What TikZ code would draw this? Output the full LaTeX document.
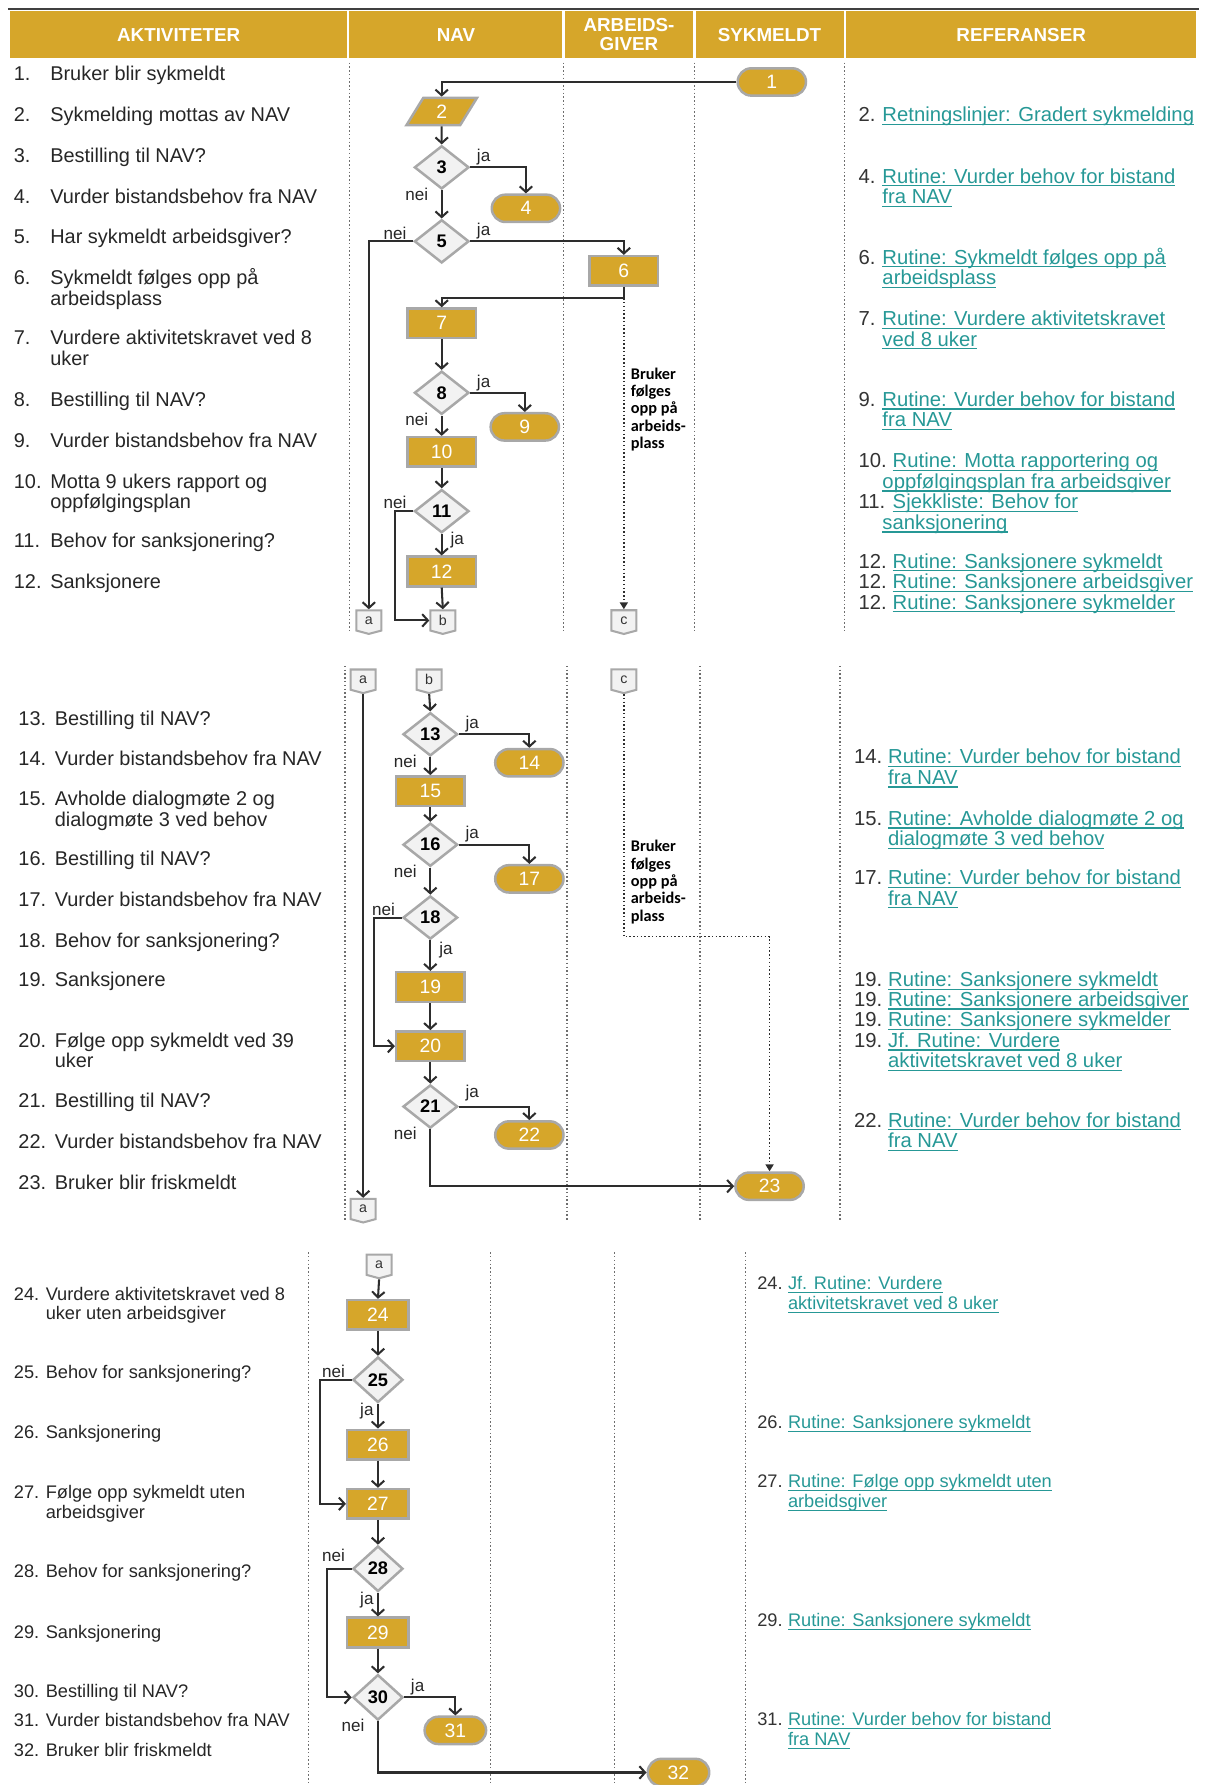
\documentclass[tikz,border=0pt]{standalone}
\usepackage{fontspec}
\setmainfont{Liberation Sans}
\newfontfamily\notefont{Carlito}
\usetikzlibrary{shapes.geometric, shapes.misc, shapes.symbols, arrows.meta}

\definecolor{navgold}{RGB}{214,166,42}
\definecolor{navteal}{RGB}{38,152,150}
\definecolor{boxgray}{RGB}{168,168,168}
\definecolor{linegray}{RGB}{45,45,45}
\definecolor{lanegray}{RGB}{110,110,110}

% underlined reference link
\newsavebox\reflinkbox
\newcommand{\reflink}[1]{\sbox\reflinkbox{#1}\rlap{\rule[-2.8pt]{\wd\reflinkbox}{1pt}}\usebox\reflinkbox}

\begin{document}
\begin{tikzpicture}[x=1pt, y=-1pt,
    % Styles
    head cell/.style={rectangle, fill=navgold, draw=white, line width=2pt, text=white, align=center, font=\fontsize{16.5}{17}\selectfont\bfseries, minimum height=43pt, inner sep=0pt},
    head line/.style={draw=black!75, line width=2pt},
    lane/.style={draw=lanegray, dotted, line width=1.3pt},
    act num/.style={anchor=base west, inner sep=0pt, text=black!85, font=\fontsize{17.5}{18}\selectfont},
    act text/.style={anchor=base west, inner sep=0pt, text=black!85, align=left, font=\fontsize{17.5}{18}\selectfont},
    ref num/.style={anchor=base west, inner sep=0pt, text=black!80, font=\fontsize{17.8}{18}\selectfont},
    ref text/.style={anchor=base west, inner sep=0pt, text=navteal, align=left, font=\fontsize{17.8}{18}\selectfont},
    small/.style={font=\fontsize{16}{17.5}\selectfont},
    proc node/.style={rectangle, fill=navgold, draw=boxgray, line width=2.2pt, text=white, minimum width=60pt, minimum height=26pt, inner sep=0pt, font=\fontsize{17}{17}\selectfont},
    term node/.style={rounded rectangle, fill=navgold, draw=boxgray, line width=2.2pt, text=white, minimum width=60pt, minimum height=24pt, inner sep=0pt, font=\fontsize{17}{17}\selectfont},
    io node/.style={trapezium, trapezium left angle=70, trapezium right angle=110, trapezium stretches=true, fill=navgold, draw=boxgray, line width=2.2pt, text=white, minimum width=62pt, minimum height=24pt, inner sep=0pt, font=\fontsize{17}{17}\selectfont},
    dec node/.style={diamond, fill=black!5, draw=boxgray, line width=2.2pt, text=black, minimum width=48pt, minimum height=38pt, inner sep=0pt, font=\fontsize{16}{16}\selectfont\bfseries},
    page node/.style={signal, signal to=south, signal pointer angle=150, fill=black!5, draw=boxgray, line width=1.8pt, minimum width=22pt, minimum height=19pt, inner sep=1pt, text=black!80, font=\fontsize{12.5}{12.5}\selectfont},
    arrow/.style={-{Straight Barb[length=5pt, width=11pt]}, draw=linegray, line width=1.8pt},
    dotted arrow/.style={-{Triangle[length=6pt, width=7pt]}, draw=linegray, dotted, line width=1.3pt},
    lbl/.style={inner sep=1pt, text=black!85, font=\fontsize{15}{15}\selectfont},
    ja right/.style={lbl, at start, anchor=south west, xshift=4pt},
    ja below/.style={lbl, pos=0.3, anchor=west, xshift=6pt},
    ja left/.style={lbl, pos=0.3, anchor=east, xshift=-2pt},
    nei below/.style={lbl, at start, anchor=north east, xshift=-10pt, yshift=4pt},
    nei above/.style={lbl, at start, anchor=south east, xshift=-4pt},
    note text/.style={anchor=north west, inner sep=0pt, align=left, text=black, font=\notefont\fontsize{14.3}{15.2}\selectfont\bfseries}
]
\useasboundingbox (0,0) rectangle (1059,1568);

% Header
\node[head cell, minimum width=298pt] (hAkt) at (157,30.5) {AKTIVITETER};
\node[head cell, minimum width=189pt] (hNav) at (400.5,30.5) {NAV};
\node[head cell, minimum width=115pt] (hArb) at (552.5,30.5) {ARBEIDS-\\GIVER};
\node[head cell, minimum width=132pt] (hSyk) at (676,30.5) {SYKMELDT};
\node[head cell, minimum width=310pt] (hRef) at (897,30.5) {REFERANSER};
\draw[head line] (hAkt.north west) -- (hRef.north east);

% Lanes
\draw[lane] (307,55) -- (307,555);
\draw[lane] (495,55) -- (495,555);
\draw[lane] (610,55) -- (610,555);
\draw[lane] (742,55) -- (742,555);
\draw[lane] (303,585) -- (303,1072);
\draw[lane] (498,585) -- (498,1072);
\draw[lane] (615,585) -- (615,1072);
\draw[lane] (738,585) -- (738,1072);
\draw[lane] (271,1100) -- (271,1568);
\draw[lane] (431,1100) -- (431,1568);
\draw[lane] (540,1100) -- (540,1568);
\draw[lane] (655,1100) -- (655,1568);

% Activities, part 1 (two-line texts sit on their last baseline)
\node[act num] (an1) at (12,71) {1.};
\node[act text] (at1) at (44,71) {Bruker blir sykmeldt};
\node[act num] (an2) at (12,107) {2.};
\node[act text] (at2) at (44,107) {Sykmelding mottas av NAV};
\node[act num] (an3) at (12,143) {3.};
\node[act text] (at3) at (44,143) {Bestilling til NAV?};
\node[act num] (an4) at (12,179) {4.};
\node[act text] (at4) at (44,179) {Vurder bistandsbehov fra NAV};
\node[act num] (an5) at (12,214) {5.};
\node[act text] (at5) at (44,214) {Har sykmeldt arbeidsgiver?};
\node[act num] (an6) at (12,250) {6.};
\node[act text] (at6) at (44,268) {Sykmeldt følges opp på\\arbeidsplass};
\node[act num] (an7) at (12,303) {7.};
\node[act text] (at7) at (44,321) {Vurdere aktivitetskravet ved 8\\uker};
\node[act num] (an8) at (12,357) {8.};
\node[act text] (at8) at (44,357) {Bestilling til NAV?};
\node[act num] (an9) at (12,393) {9.};
\node[act text] (at9) at (44,393) {Vurder bistandsbehov fra NAV};
\node[act num] (an10) at (12,429) {10.};
\node[act text] (at10) at (44,447) {Motta 9 ukers rapport og\\oppfølgingsplan};
\node[act num] (an11) at (12,481) {11.};
\node[act text] (at11) at (44,481) {Behov for sanksjonering?};
\node[act num] (an12) at (12,517) {12.};
\node[act text] (at12) at (44,517) {Sanksjonere};

% References, part 1
\node[ref num] (rn2) at (754,107) {2.};
\node[ref text] (rt2) at (775,107) {\reflink{Retningslinjer: Gradert sykmelding}};
\node[ref num] (rn4) at (754,161) {4.};
\node[ref text] (rt4) at (775,179) {\reflink{Rutine: Vurder behov for bistand}\\\reflink{fra NAV}};
\node[ref num] (rn6) at (754,232) {6.};
\node[ref text] (rt6) at (775,250) {\reflink{Rutine: Sykmeldt følges opp på}\\\reflink{arbeidsplass}};
\node[ref num] (rn7) at (754,286) {7.};
\node[ref text] (rt7) at (775,304) {\reflink{Rutine: Vurdere aktivitetskravet}\\\reflink{ved 8 uker}};
\node[ref num] (rn9) at (754,357) {9.};
\node[ref text] (rt9) at (775,375) {\reflink{Rutine: Vurder behov for bistand}\\\reflink{fra NAV}};
\node[ref num] (rn10) at (754,411) {10.};
\node[ref text] (rt10) at (775,429) {\hspace*{9pt}\reflink{Rutine: Motta rapportering og}\\\reflink{oppfølgingsplan fra arbeidsgiver}};
\node[ref num] (rn11) at (754,447) {11.};
\node[ref text] (rt11) at (775,465) {\hspace*{9pt}\reflink{Sjekkliste: Behov for}\\\reflink{sanksjonering}};
\node[ref num] (rn12a) at (754,499) {12.};
\node[ref text] (rt12a) at (784,499) {\reflink{Rutine: Sanksjonere sykmeldt}};
\node[ref num] (rn12b) at (754,517) {12.};
\node[ref text] (rt12b) at (784,517) {\reflink{Rutine: Sanksjonere arbeidsgiver}};
\node[ref num] (rn12c) at (754,535) {12.};
\node[ref text] (rt12c) at (784,535) {\reflink{Rutine: Sanksjonere sykmelder}};

% Flow, part 1
\node[term node] (t1) at (678,72) {1};
\node[io node] (p2) at (388,98) {2};
\node[dec node] (d3) at (388,147) {3};
\node[term node] (t4) at (462,183) {4};
\node[dec node] (d5) at (388,212) {5};
\node[proc node] (b6) at (548,238) {6};
\node[proc node] (b7) at (388,284) {7};
\node[dec node] (d8) at (388,345) {8};
\node[term node] (t9) at (461,375) {9};
\node[proc node] (b10) at (388,397) {10};
\node[dec node] (d11) at (388,449) {11};
\node[proc node] (b12) at (388,502) {12};
\node[page node] (ca1) at (324,545) {a};
\node[page node] (cb1) at (389,545) {b};
\node[page node] (cc1) at (548,545) {c};
\node[note text] (note1) at (554,323) {Bruker\\følges\\opp på\\arbeids-\\plass};

% Connections, part 1
\draw[arrow] (t1.west) -| (p2.north);
\draw[arrow] (p2.south) -- (d3.north);
\draw[arrow] (d3.east) -| node[ja right] (j3) {ja} (t4.north);
\draw[arrow] (d3.south) -- node[nei below] (n3) {nei} (d5.north);
\draw[arrow] (d5.east) -| node[ja right] (j5) {ja} (b6.north);
\draw[arrow] (d5.west) -| node[nei above] (n5) {nei} (ca1.north);
\draw[dotted arrow] (b6.south) -- (cc1.north);
\draw[arrow] (b6.south) -- ++(0,10) -| (b7.north);
\draw[arrow] (b7.south) -- (d8.north);
\draw[arrow] (d8.east) -| node[ja right] (j8) {ja} (t9.north);
\draw[arrow] (d8.south) -- node[nei below] (n8) {nei} (b10.north);
\draw[arrow] (b10.south) -- (d11.north);
\draw[arrow] (d11.south) -- node[ja below] (j11) {ja} (b12.north);
\draw[arrow] (d11.west) -- node[nei above] (n11) {nei} ++(-16,0) |- (cb1.west);
\draw[arrow] (b12.south) -- (cb1.north);

% Activities, part 2
\node[act num] (an13) at (16,637) {13.};
\node[act text] (at13) at (48,637) {Bestilling til NAV?};
\node[act num] (an14) at (16,672) {14.};
\node[act text] (at14) at (48,672) {Vurder bistandsbehov fra NAV};
\node[act num] (an15) at (16,708) {15.};
\node[act text] (at15) at (48,726) {Avholde dialogmøte 2 og\\dialogmøte 3 ved behov};
\node[act num] (an16) at (16,760) {16.};
\node[act text] (at16) at (48,760) {Bestilling til NAV?};
\node[act num] (an17) at (16,796) {17.};
\node[act text] (at17) at (48,796) {Vurder bistandsbehov fra NAV};
\node[act num] (an18) at (16,832) {18.};
\node[act text] (at18) at (48,832) {Behov for sanksjonering?};
\node[act num] (an19) at (16,867) {19.};
\node[act text] (at19) at (48,867) {Sanksjonere};
\node[act num] (an20) at (16,920) {20.};
\node[act text] (at20) at (48,938) {Følge opp sykmeldt ved 39\\uker};
\node[act num] (an21) at (16,973) {21.};
\node[act text] (at21) at (48,973) {Bestilling til NAV?};
\node[act num] (an22) at (16,1009) {22.};
\node[act text] (at22) at (48,1009) {Vurder bistandsbehov fra NAV};
\node[act num] (an23) at (16,1045) {23.};
\node[act text] (at23) at (48,1045) {Bruker blir friskmeldt};

% References, part 2
\node[ref num] (rn14) at (750,671) {14.};
\node[ref text] (rt14) at (780,689) {\reflink{Rutine: Vurder behov for bistand}\\\reflink{fra NAV}};
\node[ref num] (rn15) at (750,725) {15.};
\node[ref text] (rt15) at (780,743) {\reflink{Rutine: Avholde dialogmøte 2 og}\\\reflink{dialogmøte 3 ved behov}};
\node[ref num] (rn17) at (750,777) {17.};
\node[ref text] (rt17) at (780,795) {\reflink{Rutine: Vurder behov for bistand}\\\reflink{fra NAV}};
\node[ref num] (rn19a) at (750,867) {19.};
\node[ref text] (rt19a) at (780,867) {\reflink{Rutine: Sanksjonere sykmeldt}};
\node[ref num] (rn19b) at (750,884) {19.};
\node[ref text] (rt19b) at (780,884) {\reflink{Rutine: Sanksjonere arbeidsgiver}};
\node[ref num] (rn19c) at (750,902) {19.};
\node[ref text] (rt19c) at (780,902) {\reflink{Rutine: Sanksjonere sykmelder}};
\node[ref num] (rn19d) at (750,920) {19.};
\node[ref text] (rt19d) at (780,938) {\reflink{Jf. Rutine: Vurdere}\\\reflink{aktivitetskravet ved 8 uker}};
\node[ref num] (rn22) at (750,990) {22.};
\node[ref text] (rt22) at (780,1008) {\reflink{Rutine: Vurder behov for bistand}\\\reflink{fra NAV}};

% Flow, part 2
\node[page node] (ca2) at (319,597) {a};
\node[page node] (cb2) at (377,597) {b};
\node[page node] (cc2) at (548,597) {c};
\node[dec node] (d13) at (378,645) {13};
\node[term node] (t14) at (465,670) {14};
\node[proc node] (b15) at (378,695) {15};
\node[dec node] (d16) at (378,742) {16};
\node[term node] (t17) at (465,772) {17};
\node[dec node] (d18) at (378,806) {18};
\node[proc node] (b19) at (378,867) {19};
\node[proc node] (b20) at (378,919) {20};
\node[dec node] (d21) at (378,972) {21};
\node[term node] (t22) at (465,997) {22};
\node[term node] (t23) at (676,1042) {23};
\node[page node] (ca3) at (319,1062) {a};
\node[note text] (note2) at (554,738) {Bruker\\følges\\opp på\\arbeids-\\plass};

% Connections, part 2
\draw[arrow] (ca2.south) -- (ca3.north);
\draw[arrow] (cb2.south) -- (d13.north);
\draw[arrow] (d13.east) -| node[ja right] (j13) {ja} (t14.north);
\draw[arrow] (d13.south) -- node[nei below] (n13) {nei} (b15.north);
\draw[arrow] (b15.south) -- (d16.north);
\draw[arrow] (d16.east) -| node[ja right] (j16) {ja} (t17.north);
\draw[arrow] (d16.south) -- node[nei below] (n16) {nei} (d18.north);
\draw[arrow] (d18.south) -- node[ja below] (j18) {ja} (b19.north);
\draw[arrow] (d18.west) -- node[nei above] (n18) {nei} ++(-24,0) |- (b20.west);
\draw[arrow] (b19.south) -- (b20.north);
\draw[arrow] (b20.south) -- (d21.north);
\draw[arrow] (d21.east) -| node[ja right, yshift=3pt] (j21) {ja} (t22.north);
\draw[arrow] (d21.south) |- node[nei below] (n21) {nei} (t23.west);
\draw[dotted arrow] (cc2.south) -- ++(0,213) -| (t23.north);

% Activities, part 3
\node[act num, small] (an24) at (12,1142) {24.};
\node[act text, small] (at24) at (40,1159.5) {Vurdere aktivitetskravet ved 8\\uker uten arbeidsgiver};
\node[act num, small] (an25) at (12,1211) {25.};
\node[act text, small] (at25) at (40,1211) {Behov for sanksjonering?};
\node[act num, small] (an26) at (12,1264) {26.};
\node[act text, small] (at26) at (40,1264) {Sanksjonering};
\node[act num, small] (an27) at (12,1316) {27.};
\node[act text, small] (at27) at (40,1333.5) {Følge opp sykmeldt uten\\arbeidsgiver};
\node[act num, small] (an28) at (12,1386) {28.};
\node[act text, small] (at28) at (40,1386) {Behov for sanksjonering?};
\node[act num, small] (an29) at (12,1439) {29.};
\node[act text, small] (at29) at (40,1439) {Sanksjonering};
\node[act num, small] (an30) at (12,1491) {30.};
\node[act text, small] (at30) at (40,1491) {Bestilling til NAV?};
\node[act num, small] (an31) at (12,1517) {31.};
\node[act text, small] (at31) at (40,1517) {Vurder bistandsbehov fra NAV};
\node[act num, small] (an32) at (12,1543) {32.};
\node[act text, small] (at32) at (40,1543) {Bruker blir friskmeldt};

% References, part 3
\node[ref num, small] (rn24) at (665,1133) {24.};
\node[ref text, small] (rt24) at (692,1150.5) {\reflink{Jf. Rutine: Vurdere}\\\reflink{aktivitetskravet ved 8 uker}};
\node[ref num, small] (rn26) at (665,1255) {26.};
\node[ref text, small] (rt26) at (692,1255) {\reflink{Rutine: Sanksjonere sykmeldt}};
\node[ref num, small] (rn27) at (665,1307) {27.};
\node[ref text, small] (rt27) at (692,1324.5) {\reflink{Rutine: Følge opp sykmeldt uten}\\\reflink{arbeidsgiver}};
\node[ref num, small] (rn29) at (665,1429) {29.};
\node[ref text, small] (rt29) at (692,1429) {\reflink{Rutine: Sanksjonere sykmeldt}};
\node[ref num, small] (rn31) at (665,1516) {31.};
\node[ref text, small] (rt31) at (692,1533.5) {\reflink{Rutine: Vurder behov for bistand}\\\reflink{fra NAV}};

% Flow, part 3
\node[page node] (ca4) at (333,1111) {a};
\node[proc node, minimum width=54pt] (b24) at (332,1155) {24};
\node[dec node, minimum width=44pt, minimum height=40pt] (d25) at (332,1212) {25};
\node[proc node, minimum width=54pt] (b26) at (332,1269) {26};
\node[proc node, minimum width=54pt] (b27) at (332,1321) {27};
\node[dec node, minimum width=44pt, minimum height=40pt] (d28) at (332,1378) {28};
\node[proc node, minimum width=54pt] (b29) at (332,1434) {29};
\node[dec node, minimum width=44pt, minimum height=40pt] (d30) at (332,1491) {30};
\node[term node, minimum width=54pt] (t31) at (400,1520) {31};
\node[term node, minimum width=54pt] (t32) at (596,1557) {32};

% Connections, part 3
\draw[arrow] (ca4.south) -- (b24.north);
\draw[arrow] (b24.south) -- (d25.north);
\draw[arrow] (d25.south) -- node[ja left] (j25) {ja} (b26.north);
\draw[arrow] (d25.west) -- node[nei above] (n25) {nei} ++(-28,0) |- (b27.west);
\draw[arrow] (b26.south) -- (b27.north);
\draw[arrow] (b27.south) -- (d28.north);
\draw[arrow] (d28.south) -- node[ja left] (j28) {ja} (b29.north);
\draw[arrow] (d28.west) -- node[nei above, yshift=4pt] (n28) {nei} ++(-22,0) |- (d30.west);
\draw[arrow] (b29.south) -- (d30.north);
\draw[arrow] (d30.east) -| node[ja right] (j30) {ja} (t31.north);
\draw[arrow] (d30.south) |- node[nei below] (n30) {nei} (t32.west);

\end{tikzpicture}
\end{document}
